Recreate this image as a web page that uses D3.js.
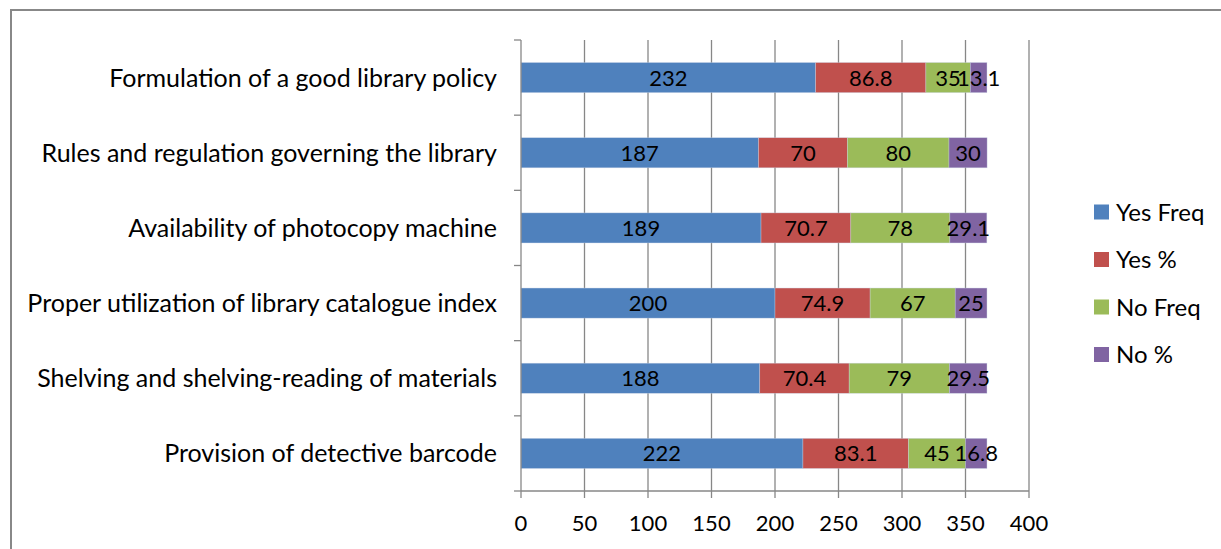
<!DOCTYPE html>
<html><head><meta charset="utf-8">
<script src="https://cdn.jsdelivr.net/npm/d3@7"></script>
<style>body{margin:0;background:#fff}svg{display:block}text{font-family:Lato,"Open Sans",sans-serif}</style>
</head><body><svg id="c" width="1221" height="549"></svg>
<script>
const categories = ["Formulation of a good library policy","Rules and regulation governing the library","Availability of photocopy machine","Proper utilization of library catalogue index","Shelving and shelving-reading of materials","Provision of detective barcode"];
const seriesNames = ["Yes Freq","Yes %","No Freq","No %"];
const yesFreq = [232,187,189,200,188,222];
const yesPct = [86.8,70,70.7,74.9,70.4,83.1];
const noFreq = [35,80,78,67,79,45];
const noPct = [13.1,30,29.1,25,29.5,16.8];
const xTicks = [0,50,100,150,200,250,300,350,400];
const colors = ["#4F81BD","#C0504D","#9BBB59","#8064A2"];

const svg = d3.select("#c");
svg.append("rect").attr("x",11).attr("y",10).attr("width",1230).attr("height",560)
  .attr("fill","none").attr("stroke","#888").attr("stroke-width",2);

const m = {l:521,r:1029,t:40,b:491};
const x = d3.scaleLinear().domain([0,400]).range([m.l,m.r]);
const y = d3.scaleBand().domain(categories).range([m.t,m.b]).paddingInner(0.6).paddingOuter(0.3);
const band = d3.scaleBand().domain(categories).range([m.t,m.b]);

// grid
svg.append("g").selectAll("line").data(xTicks.slice(1)).join("line")
  .attr("x1",d=>x(d)).attr("x2",d=>x(d)).attr("y1",m.t).attr("y2",m.b)
  .attr("stroke","#878787").attr("stroke-width",1.3);

const rows = categories.map((c,i)=>({c, vals:[yesFreq[i],yesPct[i],noFreq[i],noPct[i]]}));
const segs = [];
rows.forEach(r=>{let s=0; r.vals.forEach((v,k)=>{segs.push({c:r.c,k,v,x0:s,x1:s+v}); s+=v;});});

svg.append("g").selectAll("rect").data(segs).join("rect")
  .attr("x",d=>x(d.x0)).attr("width",d=>x(d.x1)-x(d.x0))
  .attr("y",d=>y(d.c)).attr("height",y.bandwidth())
  .attr("fill",d=>colors[d.k]).attr("stroke","#c8d4e6").attr("stroke-width",0.6).attr("stroke-opacity",0.6);

svg.append("g").selectAll("text").data(segs).join("text")
  .attr("x",d=>(x(d.x0)+x(d.x1))/2).attr("y",d=>y(d.c)+y.bandwidth()/2)
  .attr("dy","0.36em").attr("text-anchor","middle").attr("font-size",22).attr("fill","#000")
  .text(d=>d.v);

// y axis
const ya = svg.append("g");
ya.append("line").attr("x1",m.l).attr("x2",m.l).attr("y1",m.t).attr("y2",m.b).attr("stroke","#878787").attr("stroke-width",1.3);
const bounds = categories.map(c=>band(c)).concat([m.b]);
ya.selectAll("line.t").data(bounds).join("line").attr("class","t")
  .attr("x1",m.l-7).attr("x2",m.l).attr("y1",d=>d).attr("y2",d=>d).attr("stroke","#878787").attr("stroke-width",1.3);
ya.selectAll("text").data(categories).join("text")
  .attr("x",m.l-24).attr("y",d=>y(d)+y.bandwidth()/2).attr("dy","0.36em")
  .attr("text-anchor","end").attr("font-size",25).attr("fill","#000").text(d=>d);

// x axis
const xa = svg.append("g");
xa.append("line").attr("x1",m.l).attr("x2",m.r).attr("y1",m.b).attr("y2",m.b).attr("stroke","#878787").attr("stroke-width",1.3);
xa.selectAll("line.t").data(xTicks).join("line").attr("class","t")
  .attr("x1",d=>x(d)).attr("x2",d=>x(d)).attr("y1",m.b).attr("y2",m.b+7).attr("stroke","#878787").attr("stroke-width",1.3);
xa.selectAll("text").data(xTicks).join("text")
  .attr("x",d=>x(d)).attr("y",523).attr("dy","0.36em").attr("text-anchor","middle")
  .attr("font-size",22).attr("fill","#000").text(d=>d);

// legend
const lg = svg.append("g").selectAll("g").data(seriesNames).join("g")
  .attr("transform",(d,i)=>`translate(1094,${212+i*47.5})`);
lg.append("rect").attr("x",0).attr("y",-7.5).attr("width",15).attr("height",15).attr("fill",(d,i)=>colors[i]);
lg.append("text").attr("x",22).attr("dy","0.36em").attr("font-size",24).attr("fill","#000").text(d=>d);
</script></body></html>
